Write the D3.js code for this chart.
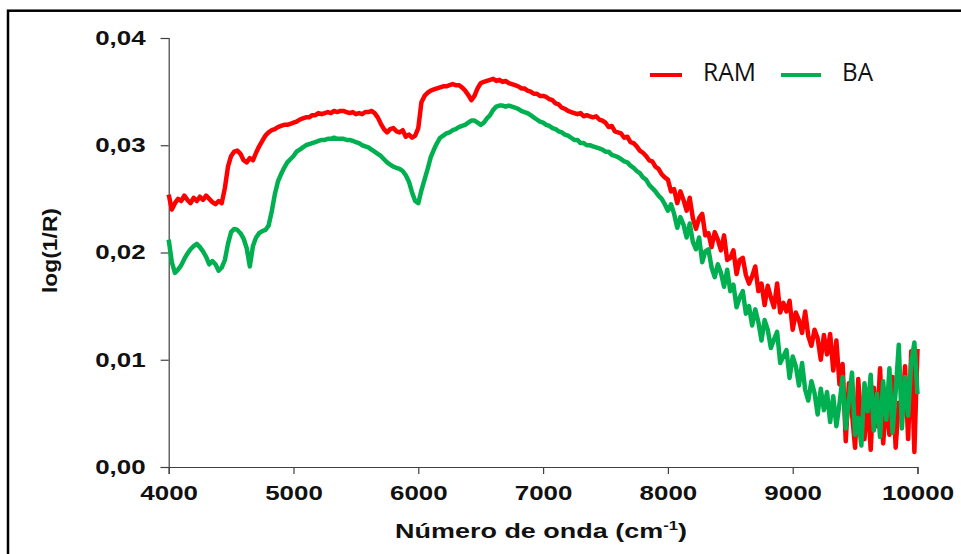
<!DOCTYPE html>
<html><head><meta charset="utf-8">
<script src="https://cdn.jsdelivr.net/npm/d3@7"></script>
<style>html,body{margin:0;padding:0;background:#fff;} svg{display:block}</style>
</head><body>
<svg id="chart" width="961" height="554"></svg>
<script>
// Sample positions (wavenumber, cm-1), one every 25 cm-1
const wavenumbers = d3.range(4000, 10001, 25);

// log(1/R) values
const ram = [
.0254,.0240,.0246,.0250,.0248,.0253,.0249,.0246,
.0251,.0248,.0252,.0249,.0253,.0250,.0247,.0245,
.0248,.0246,.0260,.0280,.0290,.0294,.0295,.0292,
.0286,.0284,.0288,.0286,.0293,.0299,.0304,.0309,
.0312,.0314,.0315,.0317,.0318,.0319,.0319,.0320,
.0321,.0322,.0324,.0325,.0326,.0326,.0328,.0328,
.0330,.0329,.0330,.0331,.0330,.0332,.0331,.0332,
.0332,.0331,.0330,.0331,.0329,.0330,.0329,.0331,
.0331,.0332,.0330,.0326,.0320,.0315,.0312,.0315,
.0316,.0313,.0312,.0314,.0308,.0310,.0307,.0309,
.0316,.0340,.0346,.0349,.0351,.0352,.0353,.0354,
.0355,.0355,.0356,.0357,.0356,.0356,.0354,.0351,
.0347,.0342,.0346,.0353,.0358,.0359,.0360,.0361,
.0362,.0360,.0361,.0359,.0360,.0358,.0357,.0356,
.0355,.0353,.0353,.0351,.0350,.0348,.0348,.0346,
.0346,.0345,.0343,.0342,.0339,.0338,.0335,.0334,
.0332,.0331,.0330,.0329,.0330,.0327,.0328,.0327,
.0326,.0327,.0324,.0323,.0321,.0317,.0318,.0313,
.0312,.0311,.0307,.0308,.0303,.0302,.0299,.0295,
.0293,.0290,.0286,.0285,.0280,.0278,.0273,.0270,
.0268,.0257,.0259,.0246,.0257,.0249,.0239,.0251,
.0232,.0222,.0232,.0236,.0216,.0218,.0205,.0219,
.0212,.0202,.0216,.0193,.0195,.0202,.0180,.0193,
.0195,.0179,.0171,.0178,.0187,.0164,.0171,.0151,
.0169,.0158,.0149,.0171,.0144,.0153,.0145,.0155,
.0128,.0144,.0137,.0125,.0145,.0122,.0113,.0128,
.0120,.0100,.0123,.0105,.0124,.0090,.0118,.0077,
.0096,.0024,.0078,.0050,.0018,.0082,.0042,.0026,
.0068,.0016,.0074,.0038,.0092,.0022,.0064,.0030,
.0084,.0018,.0060,.0046,.0094,.0026,.0108,.0014,
.0110
];
const ba = [
.0212,.0191,.0181,.0184,.0188,.0194,.0199,.0203,
.0206,.0208,.0205,.0201,.0196,.0189,.0192,.0189,
.0183,.0186,.0193,.0208,.0219,.0222,.0221,.0218,
.0213,.0204,.0187,.0206,.0214,.0218,.0220,.0221,
.0225,.0238,.0254,.0266,.0273,.0279,.0284,.0287,
.0290,.0294,.0296,.0298,.0300,.0301,.0302,.0303,
.0304,.0305,.0305,.0306,.0306,.0307,.0306,.0306,
.0306,.0305,.0305,.0304,.0303,.0302,.0300,.0299,
.0298,.0296,.0294,.0292,.0290,.0287,.0284,.0282,
.0280,.0279,.0278,.0276,.0272,.0266,.0256,.0248,
.0246,.0258,.0268,.0278,.0289,.0296,.0302,.0307,
.0309,.0311,.0312,.0314,.0315,.0317,.0318,.0319,
.0321,.0323,.0323,.0321,.0319,.0321,.0325,.0328,
.0333,.0336,.0337,.0337,.0336,.0337,.0336,.0335,
.0334,.0332,.0331,.0330,.0328,.0326,.0324,.0322,
.0321,.0319,.0318,.0316,.0315,.0313,.0312,.0310,
.0309,.0307,.0305,.0305,.0302,.0302,.0300,.0300,
.0299,.0298,.0297,.0296,.0294,.0294,.0291,.0290,
.0289,.0287,.0285,.0284,.0281,.0279,.0276,.0274,
.0270,.0268,.0263,.0260,.0257,.0253,.0250,.0245,
.0239,.0245,.0236,.0223,.0233,.0226,.0214,.0227,
.0210,.0203,.0214,.0191,.0201,.0203,.0186,.0177,
.0189,.0181,.0168,.0184,.0164,.0170,.0149,.0158,
.0164,.0143,.0150,.0132,.0147,.0135,.0118,.0137,
.0128,.0111,.0119,.0126,.0097,.0103,.0109,.0083,
.0103,.0094,.0076,.0097,.0072,.0062,.0080,.0069,
.0049,.0073,.0053,.0070,.0042,.0066,.0038,.0059,
.0084,.0036,.0062,.0088,.0030,.0046,.0020,.0078,
.0052,.0086,.0034,.0068,.0028,.0080,.0044,.0092,
.0032,.0070,.0114,.0036,.0084,.0048,.0098,.0116,
.0068
];
const seriesNames = ["RAM", "BA"];
const seriesColors = ["#ff0000", "#00b050"];
const xTicks = [4000, 5000, 6000, 7000, 8000, 9000, 10000];
const yTicks = [0, 0.01, 0.02, 0.03, 0.04];

const svg = d3.select("#chart");

// outer frame
svg.append("rect").attr("x", 8).attr("y", 10.7).attr("width", 1000).attr("height", 1000)
  .attr("fill", "none").attr("stroke", "#000").attr("stroke-width", 2.5);

const x = d3.scaleLinear().domain([4000, 10000]).range([168.7, 917.5]);
const y = d3.scaleLinear().domain([0, 0.04]).range([467, 38]);
const locale = d3.formatLocale({decimal: ",", thousands: ".", grouping: [3], currency: ["", ""]});
const fy = locale.format(".2f");

const SX = 1.33;
const gx = svg.append("g").attr("transform", "translate(0,467)")
  .call(d3.axisBottom(x).tickValues(xTicks).tickFormat(d3.format("d")).tickSizeOuter(0).tickSize(7));
const gy = svg.append("g").attr("transform", "translate(168.7,0)")
  .call(d3.axisLeft(y).tickValues(yTicks).tickFormat(fy).tickSizeOuter(0).tickSize(8));

[gx, gy].forEach(g => {
  g.selectAll(".domain, .tick line").attr("stroke", "#404040").attr("stroke-width", 1.2);
  g.selectAll(".tick text").attr("fill", "#111")
    .style("font-family", "'Liberation Sans', Arial, sans-serif")
    .style("font-weight", "bold").style("font-size", "19.5px")
    .attr("transform", `scale(${SX},1)`);
});
gx.selectAll(".tick text").attr("y", 19).attr("dy", "0.71em");
gy.selectAll(".tick text").attr("x", -(168.7 - 145.6) / SX).attr("dy", "0.33em");

// series lines
const line = d3.line().x((d, i) => x(wavenumbers[i])).y(d => y(d));
[ram, ba].forEach((vals, k) => {
  svg.append("path").datum(vals).attr("d", line)
    .attr("fill", "none").attr("stroke", seriesColors[k])
    .attr("stroke-width", 4.5).attr("stroke-linejoin", "round");
});

function fit(sel, width, ax) {
  const w = sel.node().getComputedTextLength();
  const s = width / w;
  sel.attr("transform", `translate(${ax},0) scale(${s},1) translate(${-ax},0)`);
}

// x title
const xt = svg.append("text").attr("x", 541).attr("y", 538).attr("text-anchor", "middle")
  .style("font-family", "'Liberation Sans', Arial, sans-serif").style("font-weight", "bold")
  .style("font-size", "21px").attr("fill", "#111");
xt.append("tspan").text("Número de onda (cm");
xt.append("tspan").text("-1").style("font-size", "13px").attr("dy", -8);
xt.append("tspan").text(")").attr("dy", 8);
fit(xt, 292, 541);

// y title
const yg = svg.append("g").attr("transform", "translate(57,250.5) rotate(-90)");
const yt = yg.append("text").attr("x", 0).attr("y", 0).attr("text-anchor", "middle")
  .style("font-family", "'Liberation Sans', Arial, sans-serif").style("font-weight", "bold")
  .style("font-size", "20px").attr("fill", "#111").text("log(1/R)");
fit(yt, 85, 0);

// legend
const legendItems = [
  {name: seriesNames[0], color: seriesColors[0], x1: 650, x2: 682, tx: 703, tw: 53},
  {name: seriesNames[1], color: seriesColors[1], x1: 781, x2: 821, tx: 842, tw: 31}
];
legendItems.forEach(it => {
  svg.append("line").attr("x1", it.x1).attr("x2", it.x2).attr("y1", 75).attr("y2", 75)
    .attr("stroke", it.color).attr("stroke-width", 4);
  const t = svg.append("text").attr("x", it.tx).attr("y", 81)
    .style("font-family", "'Open Sans', sans-serif").style("font-size", "25px")
    .attr("fill", "#111").text(it.name);
  fit(t, it.tw, it.tx);
});
</script>
</body></html>
